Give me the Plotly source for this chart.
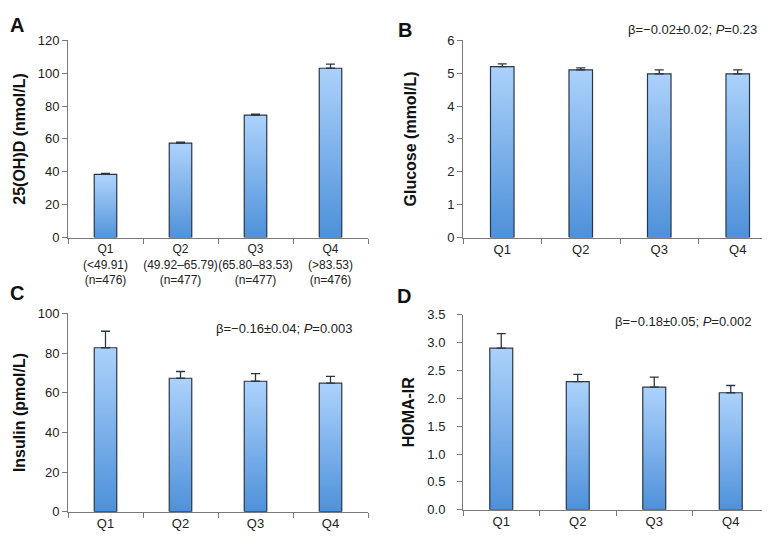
import plotly.graph_objects as go

# ---------------- data ----------------
quartiles = ["Q1", "Q2", "Q3", "Q4"]
labels_a = ["Q1<br>(<49.91)<br>(n=476)", "Q2<br>(49.92–65.79)<br>(n=477)",
            "Q3<br>(65.80–83.53)<br>(n=477)", "Q4<br>(>83.53)<br>(n=476)"]

vitd_mean = [38.5, 57.5, 74.5, 103.0]
vitd_se = [0.6, 0.5, 0.6, 2.5]

glucose_mean = [5.2, 5.1, 4.98, 4.98]
glucose_se = [0.08, 0.06, 0.12, 0.12]

insulin_mean = [82.7, 67.3, 65.8, 64.8]
insulin_se = [8.3, 3.4, 3.8, 3.5]

homa_mean = [2.9, 2.3, 2.2, 2.1]
homa_se = [0.26, 0.13, 0.18, 0.13]

annot_b = "β=−0.02±0.02; <i>P</i>=0.23"
annot_c = "β=−0.16±0.04; <i>P</i>=0.003"
annot_d = "β=−0.18±0.05; <i>P</i>=0.002"

# ---------------- styling ----------------
W, H = 770, 537
HALF = 0.15            # half bar width in category units
LIGHT = "#abd1fb"
DARK = "#4a8ed8"
EDGE = "#2a3645"
AXIS = "#7a7a7a"
FONT = "Liberation Sans, Arial, sans-serif"

fig = go.Figure()

def add_panel(idx, means, ses):
    sx = "" if idx == 1 else str(idx)
    for i, v in enumerate(means):
        fig.add_trace(go.Scatter(
            x=[i - HALF, i + HALF, i + HALF, i - HALF, i - HALF],
            y=[0, 0, v, v, 0],
            mode="lines", fill="toself",
            line=dict(color=EDGE, width=1.2),
            fillgradient=dict(type="vertical",
                              colorscale=[[0, DARK], [1, LIGHT]],
                              start=0, stop=v),
            xaxis="x" + sx, yaxis="y" + sx,
            hoverinfo="skip", showlegend=False))
    fig.add_trace(go.Scatter(
        x=list(range(len(means))), y=means, mode="markers",
        marker=dict(size=1, opacity=0),
        error_y=dict(type="data", symmetric=False, array=ses,
                     arrayminus=[0] * len(ses), color=EDGE,
                     thickness=1.3, width=4.5),
        xaxis="x" + sx, yaxis="y" + sx, showlegend=False))

add_panel(1, vitd_mean, vitd_se)
add_panel(2, glucose_mean, glucose_se)
add_panel(3, insulin_mean, insulin_se)
add_panel(4, homa_mean, homa_se)

tickfont = dict(family=FONT, size=13, color="#222222")
titlefont = dict(family=FONT, size=16, color="#111111", weight="bold")

def xax(domain, anchor, ticktext, fsize=13):
    return dict(domain=domain, anchor=anchor, range=[-0.5, 3.5],
                tickmode="array", tickvals=[0, 1, 2, 3], ticktext=ticktext,
                tickangle=0, ticks="", showgrid=False, zeroline=False,
                showline=True, linecolor=AXIS, linewidth=1,
                tickfont=dict(tickfont, size=fsize),
                minor=dict(tickmode="array", tickvals=[-0.5, 0.5, 1.5, 2.5, 3.5],
                           ticks="outside", ticklen=5, tickcolor=AXIS,
                           showgrid=False))

def yax(domain, anchor, rng, dtick, title, standoff, fmt=None, lblstand=0):
    d = dict(domain=domain, anchor=anchor, range=rng, dtick=dtick,
             ticks="outside", ticklen=5, tickcolor=AXIS,
             showgrid=False, zeroline=False,
             showline=True, linecolor=AXIS, linewidth=1,
             tickfont=tickfont, ticklabelstandoff=lblstand,
             title=dict(text=title, font=titlefont, standoff=standoff))
    if fmt:
        d["tickformat"] = fmt
    return d

xa = [60 / W, 360 / W]
xb = [455 / W, 769 / W]
xc = [60 / W, 360 / W]
xd = [455 / W, 761 / W]
ytop = [1 - 229 / H, 1 - 26 / H]
yc = [1 - 511 / H, 1 - 307 / H]
yd = [1 - 509 / H, 1 - 308.3 / H]

fig.update_layout(
    width=W, height=H,
    margin=dict(l=0, r=0, t=0, b=0),
    paper_bgcolor="white", plot_bgcolor="white",
    font=dict(family=FONT, color="#222222"),
    xaxis=xax(xa, "y", labels_a, 12),
    yaxis=yax(ytop, "x", [0, 120], 20, "25(OH)D (nmol/L)", 8),
    xaxis2=xax(xb, "y2", quartiles),
    yaxis2=yax(ytop, "x2", [0, 6], 1, "Glucose (mmol/L)", 26),
    xaxis3=xax(xc, "y3", quartiles),
    yaxis3=yax(yc, "x3", [0, 100], 20, "Insulin (pmol/L)", 8),
    xaxis4=xax(xd, "y4", quartiles),
    yaxis4=yax(yd, "x4", [0, 3.5], 0.5, "HOMA-IR", 8, fmt=".1f", lblstand=9),
)

letters = [("A", 9, 10), ("B", 397, 15), ("C", 9, 286), ("D", 396, 289)]
for t, x, y in letters:
    fig.add_annotation(text=t, x=x / W, y=1 - y / H, xref="paper", yref="paper",
                       showarrow=False, xanchor="center", yanchor="middle",
                       font=dict(family=FONT, size=20, color="#111111", weight="bold"))

for t, x, y in [(annot_b, 684, 15), (annot_c, 275.5, 323), (annot_d, 675, 315)]:
    fig.add_annotation(text=t, x=x / W, y=1 - y / H, xref="paper", yref="paper",
                       showarrow=False, xanchor="center", yanchor="middle",
                       font=dict(family=FONT, size=13, color="#222222"))

fig.write_html("out.html")
